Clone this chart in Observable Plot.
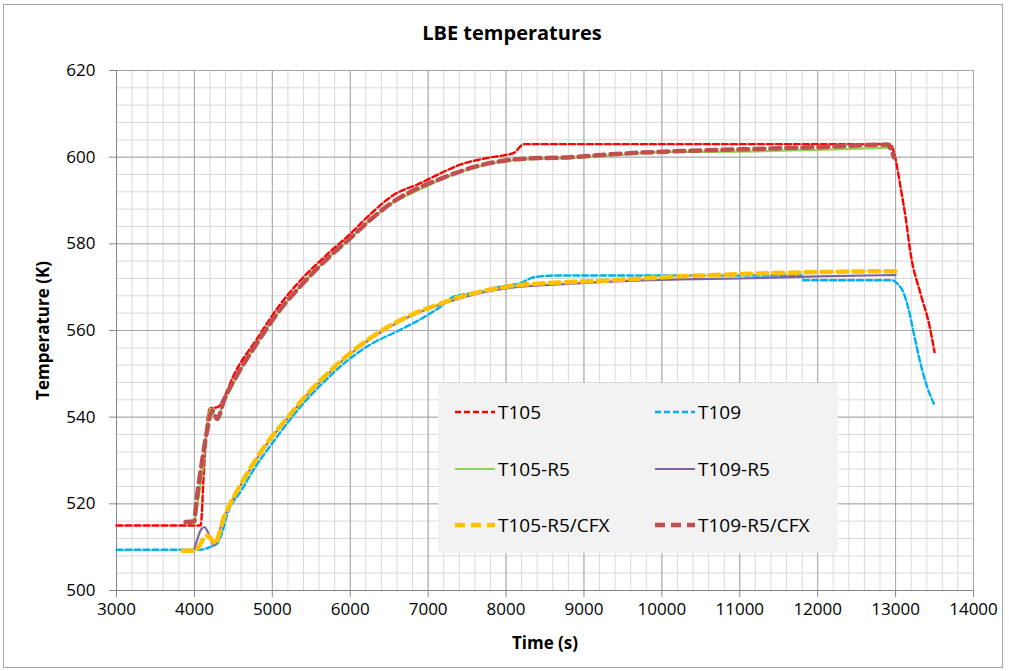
<!DOCTYPE html>
<html>
<head>
<meta charset="utf-8">
<script src="https://cdn.jsdelivr.net/npm/d3@7"></script>
<script src="https://cdn.jsdelivr.net/npm/@observablehq/plot@0.6"></script>
<style>
  html, body { margin: 0; padding: 0; background: #fff; }
  #wrap { position: relative; width: 1009px; height: 671px; overflow: hidden; font-family: "Open Sans", sans-serif; }
  #frame { position: absolute; left: 3px; top: 4px; width: 998px; height: 662px; border: 1px solid #a6a6a6; pointer-events: none; }
  #title { position: absolute; left: 0; width: 1024px; top: 19px; text-align: center; font-weight: bold; font-size: 20px; color: #000; }
  #legend { position: absolute; left: 438px; top: 383px; width: 400px; height: 170px; background: #f2f2f2; }
  .item { position: absolute; height: 24px; display: flex; align-items: center; font-size: 19px; color: #000; }
  .item svg { margin-right: 3px; }
  #chart { position: absolute; left: 0; top: 0; }
  g[aria-label="y-axis label"] text, g[aria-label="x-axis label"] text { font-weight: bold; }
</style>
</head>
<body>
<div id="wrap">
  <div id="chart"></div>
  <div id="frame"></div>
  <div id="title">LBE temperatures</div>
  <div id="legend"></div>
</div>
<script>
// ---- data ----
const seriesNames = ["T105", "T109", "T105-R5", "T109-R5", "T105-R5/CFX", "T109-R5/CFX"];

const T105_time = [3000, 4080, 4120, 4160, 4200, 4300, 4380, 4500, 4800, 5100, 5400, 5700, 6000, 6250, 6550, 6900, 7150, 7400, 7750, 8100, 8230, 9000, 10000, 11000, 12000, 12930, 13000, 13064, 13128, 13193, 13320, 13430, 13500];
const T105_temp = [515, 515, 527, 538, 542, 542.3, 544.5, 549.5, 558, 566, 572.3, 577.5, 582.3, 586.7, 591.2, 594.0, 596.2, 598.2, 599.8, 601, 603, 603, 603, 603, 603, 603, 599.5, 593, 586.2, 577.7, 568.5, 561.5, 555];

const T109_time = [3000, 4050, 4200, 4300, 4350, 4420, 4600, 4800, 5000, 5200, 5450, 5700, 5960, 6260, 6600, 6950, 7160, 7330, 7630, 7890, 8190, 8360, 8660, 9000, 10000, 11000, 11800, 11810, 12000, 12950, 13022, 13107, 13171, 13235, 13321, 13407, 13492];
const T109_temp = [509.4, 509.4, 510, 511, 513, 517.5, 523, 529, 534, 538.8, 544.2, 548.8, 553, 556.8, 559.8, 563.1, 565.5, 567.8, 568.8, 570.0, 571.0, 572.3, 572.7, 572.7, 572.7, 572.7, 572.7, 571.6, 571.6, 571.6, 570.8, 568.5, 564.6, 559.2, 552.3, 546.9, 543.1];

const T105R5_time = [4000, 4100, 4207, 4292, 4378, 4550, 4800, 5100, 5400, 5700, 6000, 6260, 6560, 6900, 7160, 7330, 7760, 8190, 8830, 9470, 10000, 11000, 12000, 12950];
const T105R5_temp = [515.4, 527, 542, 539.6, 543.5, 549.5, 557, 564.8, 571, 576.5, 581.3, 585.5, 589.6, 592.6, 594.8, 596, 598.3, 599.4, 599.8, 600.5, 601.2, 601.3, 601.7, 602.2];

const T109R5_time = [4000, 4050, 4090, 4130, 4170, 4210, 4249, 4290, 4330, 4378, 4442, 4592, 4763, 4977, 5191, 5448, 5705, 5961, 6261, 6603, 6945, 7159, 7330, 7758, 8186, 8614, 9254, 10240, 11000, 12000, 13000];
const T109R5_temp = [509.6, 512.5, 514.2, 514.6, 513.6, 511.8, 510.4, 511.5, 514.2, 516.9, 519.2, 524.2, 529.3, 534.9, 539.6, 545.1, 549.8, 554.0, 558.1, 561.8, 564.6, 566.0, 567.0, 569.0, 570.1, 570.6, 571.2, 571.8, 572, 572.5, 572.8];

const T105CFX_time = [3850, 4014, 4060, 4110, 4164, 4220, 4271, 4320, 4378, 4442, 4592, 4763, 4977, 5191, 5448, 5705, 5961, 6261, 6603, 6945, 7159, 7330, 7758, 8186, 8614, 9254, 10240, 11000, 12000, 13000];
const T105CFX_temp = [509.2, 509.2, 510.2, 511.8, 512.7, 511.8, 510.8, 513.2, 516.9, 519.4, 524.4, 529.5, 535.1, 539.8, 545.3, 550.0, 554.2, 558.3, 562.0, 564.8, 566.2, 567.3, 569.3, 570.5, 571.0, 571.5, 572.5, 573, 573.5, 573.7];

const T109CFX_time = [3886, 4000, 4014, 4100, 4164, 4228, 4292, 4378, 4550, 4800, 5100, 5400, 5700, 6000, 6261, 6560, 6902, 7159, 7330, 7758, 8186, 8828, 9470, 10240, 11000, 12000, 12893, 12979];
const T109CFX_temp = [515.8, 516, 518.5, 530, 537, 541.5, 539.6, 543.8, 549.8, 557.0, 564.8, 571.0, 576.5, 581.3, 585.6, 589.8, 593.1, 595, 596.2, 598.5, 599.6, 600, 600.8, 601.4, 601.8, 602.3, 602.9, 600];

const xTicks = [3000, 4000, 5000, 6000, 7000, 8000, 9000, 10000, 11000, 12000, 13000, 14000];
const yTicks = [500, 520, 540, 560, 580, 600, 620];

// ---- styles ----
const styles = {
  "T105":        {stroke: "#ff0000", width: 2.4, dash: "6,3"},
  "T109":        {stroke: "#00b0f0", width: 2.4, dash: "6,3"},
  "T105-R5":     {stroke: "#92d050", width: 2.2, dash: null},
  "T109-R5":     {stroke: "#7f63a1", width: 2.2, dash: null},
  "T105-R5/CFX": {stroke: "#ffc000", width: 4.5, dash: "10,6"},
  "T109-R5/CFX": {stroke: "#c0504d", width: 4.5, dash: "10,6"}
};

const zip = (ts, vs) => ts.map((t, i) => ({t, v: vs[i]}));
const data = {
  "T105": zip(T105_time, T105_temp),
  "T109": zip(T109_time, T109_temp),
  "T105-R5": zip(T105R5_time, T105R5_temp),
  "T109-R5": zip(T109R5_time, T109R5_temp),
  "T105-R5/CFX": zip(T105CFX_time, T105CFX_temp),
  "T109-R5/CFX": zip(T109CFX_time, T109CFX_temp)
};

const lineMarks = seriesNames.map(name => {
  const s = styles[name];
  const opts = {x: "t", y: "v", stroke: s.stroke, strokeWidth: s.width, curve: "monotone-x"};
  if (s.dash) opts.strokeDasharray = s.dash;
  return Plot.line(data[name], opts);
});

const chart = Plot.plot({
  width: 1009,
  height: 671,
  marginLeft: 116,
  marginRight: 36,
  marginTop: 70,
  marginBottom: 81,
  style: {fontFamily: "'Open Sans', sans-serif", fontSize: "17px", color: "#000", background: "transparent"},
  x: {domain: [3000, 14000]},
  y: {domain: [500, 620]},
  marks: [
    Plot.gridX(d3.range(3000, 14001, 200), {stroke: "#d9d9d9", strokeOpacity: 1}),
    Plot.gridY(d3.range(500, 621, 4), {stroke: "#d9d9d9", strokeOpacity: 1}),
    Plot.gridX(xTicks, {stroke: "#a6a6a6", strokeOpacity: 1}),
    Plot.gridY(yTicks, {stroke: "#a6a6a6", strokeOpacity: 1}),
    Plot.ruleX([3000], {stroke: "#868686"}),
    Plot.ruleY([500], {stroke: "#868686"}),
    Plot.axisX({ticks: xTicks, tickSize: 7, tickPadding: 5, tickFormat: d => String(d), stroke: "#868686",
                label: "Time (s)", labelAnchor: "center", labelArrow: "none", labelOffset: 58}),
    Plot.axisY({ticks: yTicks, tickSize: 7, tickPadding: 14, tickFormat: d => String(d), stroke: "#868686",
                label: "Temperature (K)", labelAnchor: "center", labelArrow: "none", labelOffset: 80}),
    ...lineMarks
  ]
});
document.getElementById("chart").appendChild(chart);

// ---- legend ----
const legend = document.getElementById("legend");
const positions = [
  [17, 29], [217, 29],
  [17, 86], [217, 86],
  [17, 142], [217, 142]
];
seriesNames.forEach((name, i) => {
  const s = styles[name];
  const item = document.createElement("div");
  item.className = "item";
  item.style.left = positions[i][0] + "px";
  item.style.top = (positions[i][1] - 12) + "px";
  const svg = d3.create("svg").attr("width", 40).attr("height", 10);
  const ln = svg.append("line").attr("x1", 0).attr("x2", 40).attr("y1", 5).attr("y2", 5)
    .attr("stroke", s.stroke).attr("stroke-width", s.width);
  if (s.dash) ln.attr("stroke-dasharray", s.dash);
  item.appendChild(svg.node());
  const span = document.createElement("span");
  span.textContent = name;
  item.appendChild(span);
  legend.appendChild(item);
});
</script>
</body>
</html>
